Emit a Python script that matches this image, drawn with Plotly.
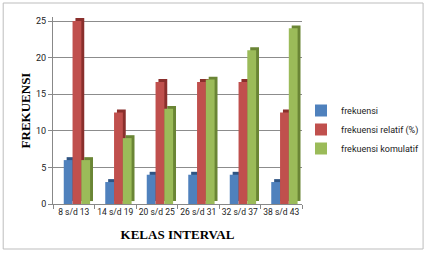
import plotly.graph_objects as go

categories = ["8 s/d 13", "14 s/d 19", "20 s/d 25", "26 s/d 31", "32 s/d 37", "38 s/d 43"]
frekuensi = [6, 3, 4, 4, 4, 3]
frekuensi_relatif = [25, 12.5, 16.67, 16.67, 16.67, 12.5]
frekuensi_komulatif = [6, 9, 13, 17, 21, 24]

series = [
    ("frekuensi", frekuensi, "#4F81BD", "#2F5483"),
    ("frekuensi relatif (%)", frekuensi_relatif, "#C0504D", "#8A2F2C"),
    ("frekuensi komulatif", frekuensi_komulatif, "#9BBB59", "#6A8535"),
]

L, R, T, B = 53, 128, 17, 50
W, H = 436, 254
pw, ph = W - L - R, H - T - B
ymax = 25.55

bar_w = 0.212
offsets = [-0.241, -0.029, 0.182]
depth_x = 0.07
depth_y = 0.4

fig = go.Figure()
# 3D side/top faces (drawn behind)
for (name, vals, col, dark), off in zip(series, offsets):
    fig.add_trace(go.Bar(
        x=categories, y=vals, base=depth_y, width=bar_w, offset=off + depth_x,
        marker=dict(color=dark, line=dict(width=0)), showlegend=False, hoverinfo="skip"))
for (name, vals, col, dark), off in zip(series, offsets):
    fig.add_trace(go.Bar(
        x=categories, y=vals, width=bar_w, offset=off, name=name,
        marker=dict(color=col, line=dict(width=0))))

fig.update_layout(
    width=W, height=H, barmode="overlay",
    margin=dict(l=L, r=R, t=T, b=B),
    paper_bgcolor="white", plot_bgcolor="white",
    font=dict(family="Roboto, Liberation Sans, sans-serif", size=9, color="#404040"),
    xaxis=dict(
        title=dict(text="<b>KELAS INTERVAL</b>", font=dict(family="Liberation Serif, serif", size=13, color="#000"), standoff=13),
        tickson="boundaries", ticks="outside", ticklen=4, tickcolor="#888", tickangle=0,
        showline=True, linecolor="#888", linewidth=1, tickfont=dict(size=8.5, color="#222"),
    ),
    yaxis=dict(
        title=dict(text="<b>FREKUENSI</b>", font=dict(family="Liberation Serif, serif", size=13, color="#000"), standoff=2),
        range=[0, ymax], dtick=5, tick0=0, showgrid=True, gridcolor="#8c8c8c", gridwidth=1,
        ticks="outside", ticklen=4, tickcolor="#888", showline=True, linecolor="#888", linewidth=1,
        tickfont=dict(size=9, color="#222"), zeroline=False,
    ),
    legend=dict(x=(307 - L) / pw, xanchor="left", y=(H - B - 129.5) / ph, yanchor="middle",
                font=dict(size=9, color="#222"), itemwidth=30, bgcolor="rgba(0,0,0,0)",
                tracegroupgap=0),
    shapes=[dict(type="rect", xref="paper", yref="paper",
                 x0=(2 - L) / pw, x1=(432 - L) / pw, y0=(H - B - 249) / ph, y1=(H - B - 3) / ph,
                 line=dict(color="#bdbdbd", width=1), layer="below")],
)

fig.write_html("out.html")
